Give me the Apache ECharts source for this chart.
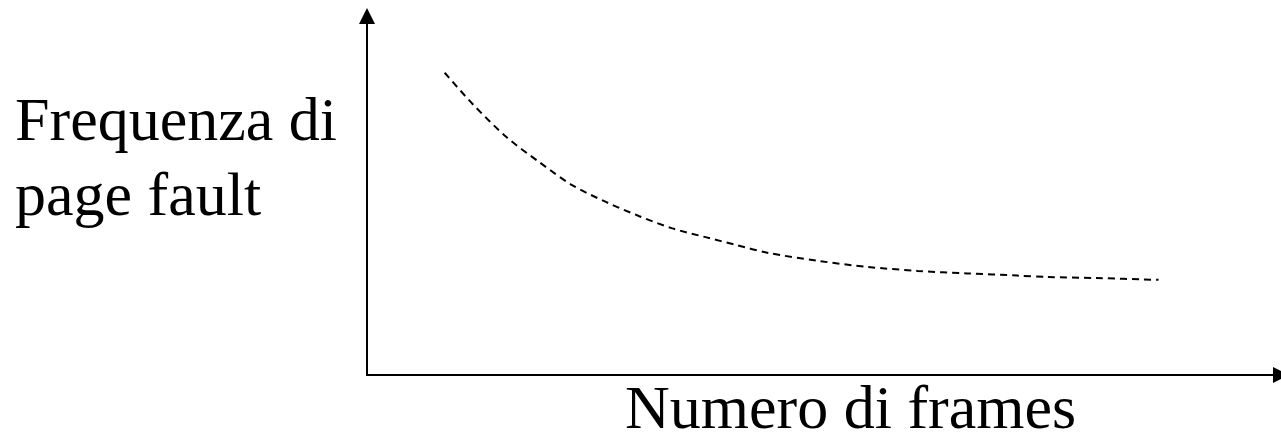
<!DOCTYPE html>
<html>
<head>
<meta charset="utf-8">
<script src="https://cdn.jsdelivr.net/npm/echarts@6/dist/echarts.min.js"></script>
<style>
html,body{margin:0;padding:0;background:#fff;}
#chart{width:1281px;height:433px;}
</style>
</head>
<body>
<div id="chart"></div>
<script>
// Data (arbitrary units, axes 0..100)
var framesX = [8.50, 11.55, 15.25, 18.85, 22.44, 26.14, 29.74, 33.33, 37.04, 40.41, 43.90, 49.35, 54.79, 60.24, 65.69, 71.13, 74.40, 79.85, 86.60];
var faultRate = [84.2, 75.5, 66.3, 59.3, 52.9, 48.2, 44.3, 40.9, 38.4, 36.2, 34.0, 31.8, 30.1, 29.0, 28.3, 27.7, 27.3, 27.0, 26.5];
var yLabelLines = ['Frequenza di', 'page fault'];
var xLabel = 'Numero di frames';

var seriesData = framesX.map(function (x, i) { return [x, faultRate[i]]; });
var font = '"Liberation Serif", "Times New Roman", serif';

var chart = echarts.init(document.getElementById('chart'), null, {renderer: 'canvas'});
chart.setOption({
  animation: false,
  backgroundColor: '#ffffff',
  grid: {left: 367, right: -4, top: 16, bottom: 58, containLabel: false},
  xAxis: {
    type: 'value', min: 0, max: 100,
    axisLine: {show: true, symbol: ['none', 'triangle'], symbolSize: [16, 16], lineStyle: {color: '#000', width: 2}},
    axisTick: {show: false}, axisLabel: {show: false}, splitLine: {show: false}
  },
  yAxis: {
    type: 'value', min: 0, max: 100,
    axisLine: {show: true, symbol: ['none', 'triangle'], symbolSize: [16, 16], lineStyle: {color: '#000', width: 2}},
    axisTick: {show: false}, axisLabel: {show: false}, splitLine: {show: false}
  },
  series: [{
    type: 'line',
    data: seriesData,
    smooth: 0.3,
    showSymbol: false,
    lineStyle: {color: '#000', width: 2, type: [7, 5]}
  }],
  graphic: [
    {type: 'text', left: 15, top: 93, style: {text: yLabelLines[0], font: '62px ' + font, fill: '#000'}},
    {type: 'text', left: 15, top: 168, style: {text: yLabelLines[1], font: '62px ' + font, fill: '#000'}},
    {type: 'text', left: 625, top: 381, style: {text: xLabel, font: '62px ' + font, fill: '#000'}}
  ]
});
</script>
</body>
</html>
